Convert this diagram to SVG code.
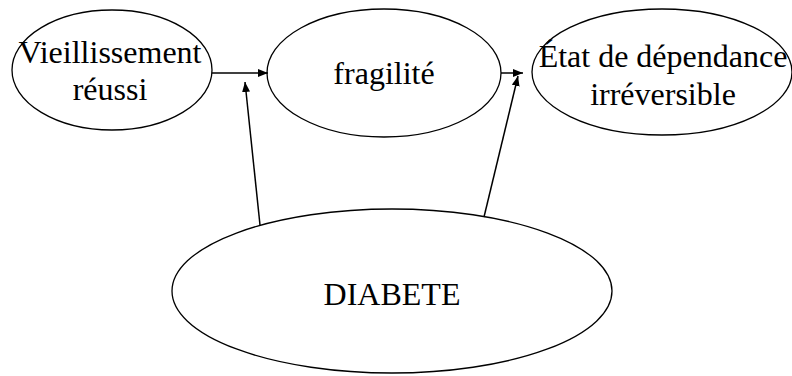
<svg xmlns="http://www.w3.org/2000/svg" width="792" height="376" viewBox="0 0 792 376">
<style>
.node ellipse{fill:#fff;stroke:#000;stroke-width:1.3}
.node text{font-family:'Liberation Serif','Times New Roman',serif;font-size:32px;fill:#000;text-anchor:middle}
.conn line{stroke:#000;stroke-width:1.5}
</style>
<defs>
<marker id="ah" markerUnits="userSpaceOnUse" markerWidth="11" markerHeight="8" refX="10" refY="4" orient="auto">
<path d="M0,0 L10,4 L0,8 z" fill="#000"/>
</marker>
</defs>
<rect width="792" height="376" fill="#fff"/>
<g id="n1" class="node">
<ellipse cx="112" cy="70" rx="100" ry="60"/>
<text x="110" y="63">Vieillissement</text>
<text x="110" y="100">réussi</text>
</g>
<g id="n2" class="node">
<ellipse cx="384" cy="73" rx="117" ry="64"/>
<text x="384" y="84">fragilité</text>
</g>
<g id="n3" class="node">
<ellipse cx="662" cy="72" rx="130" ry="63"/>
<text x="663" y="67">État de dépendance</text>
<text x="663" y="105">irréversible</text>
</g>
<g id="n4" class="node">
<ellipse cx="392" cy="291" rx="220" ry="82"/>
<text x="392" y="305">DIABETE</text>
</g>
<g id="connectors" class="conn">
<line x1="212" y1="73" x2="268" y2="73" marker-end="url(#ah)"/>
<line x1="501" y1="73" x2="523" y2="73" marker-end="url(#ah)"/>
<line x1="260" y1="225" x2="245" y2="82" marker-end="url(#ah)"/>
<line x1="484" y1="217" x2="518" y2="76" marker-end="url(#ah)"/>
</g>
</svg>
